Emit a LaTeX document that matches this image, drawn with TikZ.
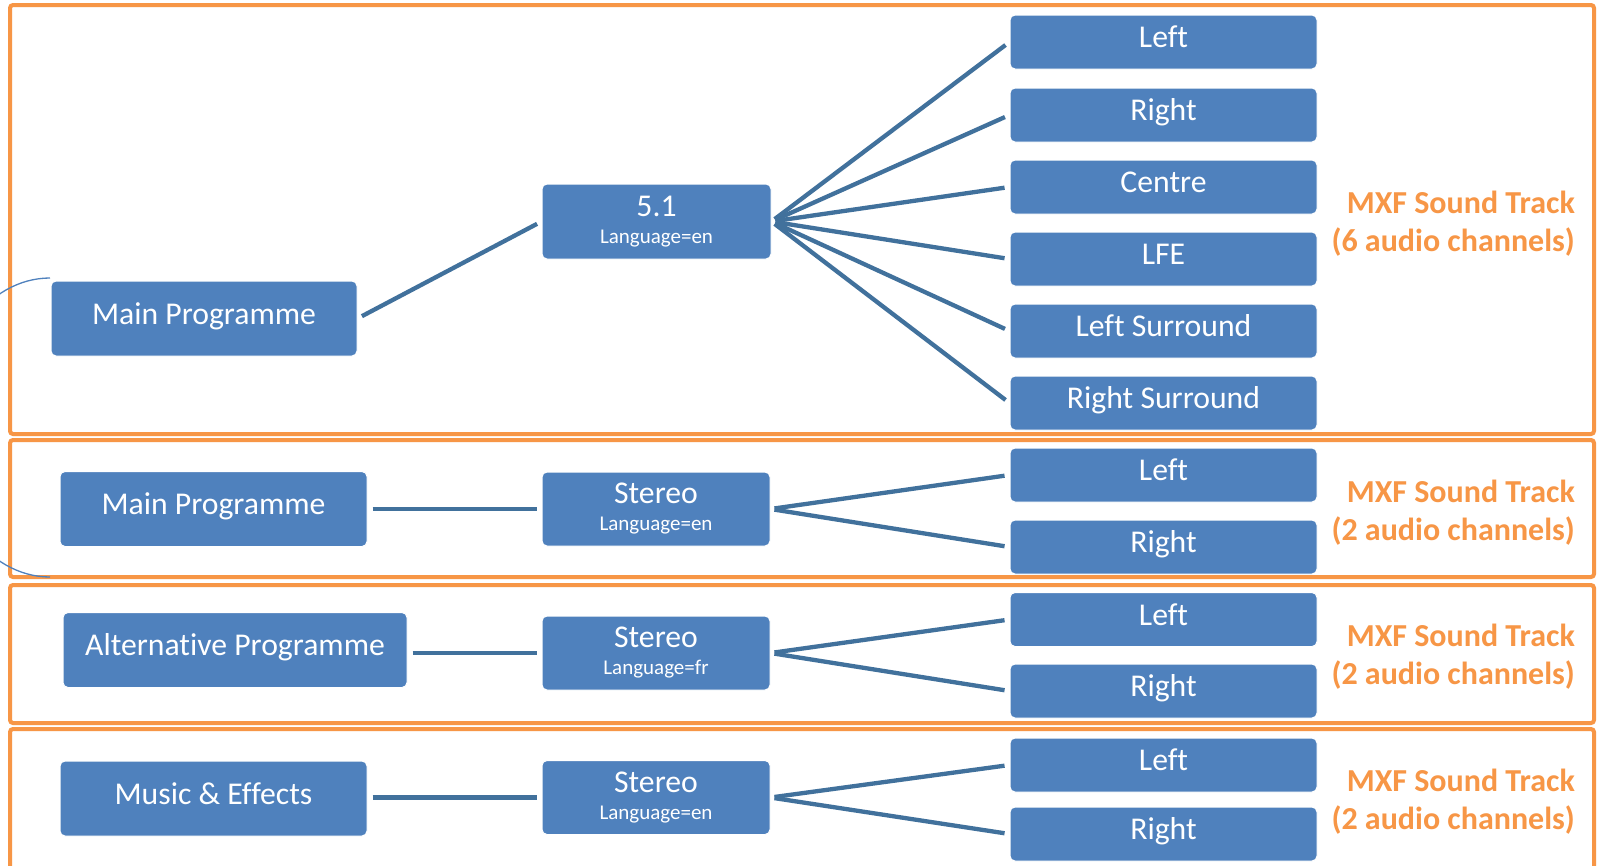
\documentclass[tikz,border=0pt]{standalone}
\usepackage{fontspec}
\setmainfont{Carlito}[Ligatures={NoCommon}]
\definecolor{nodeblue}{HTML}{4F81BD}
\definecolor{lineblue}{HTML}{41719C}
\definecolor{frameorange}{HTML}{F79646}
\tikzset{
  base/.style={rectangle, rounded corners=5pt, fill=nodeblue, draw=white, line width=1pt,
    text=white, inner sep=0pt, font=\fontsize{31.7}{37}\selectfont},
  single/.style={base, text height=21pt, text depth=10pt},
  prog/.style={single, minimum height=75pt},
  chan/.style={single, minimum width=307pt, minimum height=54pt},
  fmt/.style={base, minimum width=228pt, minimum height=74pt, align=center,
    font=\fontsize{31.7}{27}\selectfont},
  track/.style={text=frameorange, font=\bfseries\fontsize{32}{38}\selectfont, align=right,
    anchor=east, inner sep=0pt},
  conn/.style={draw=lineblue, line width=4.3pt, shorten <=5pt, shorten >=5pt},
  fan/.style={draw=lineblue, line width=4.3pt, shorten <=4pt, shorten >=5pt},
  frame/.style={draw=frameorange, line width=4pt, rounded corners=3pt},
  brace/.style={draw=nodeblue, line width=1.3pt}
}
\newcommand{\lang}[1]{\\{\fontsize{21}{27}\selectfont Language=#1}}
\begin{document}
\begin{tikzpicture}[x=1pt, y=-1pt]
\useasboundingbox (0,0) rectangle (1598,865);
\clip (0,0) rectangle (1598,865);
\fill[white] (0,0) rectangle (1598,865);

% frames
\draw[frame] (10,5) rectangle (1594,434);
\draw[frame] (10,440) rectangle (1594,577);
\draw[frame] (10,585) rectangle (1594,723);
\draw[frame] (10,729) rectangle (1594,900);

% ---- row 1
\node[prog, minimum width=306pt] (mp1) at (204,318.5) {Main Programme};
\node[fmt, minimum height=75pt, minimum width=229pt] (f51) at (656.5,221.5) {5.1\lang{en}};
\node[chan] (c1) at (1163.5,42) {Left};
\node[chan] (c2) at (1163.5,115) {Right};
\node[chan] (c3) at (1163.5,187) {Centre};
\node[chan] (c4) at (1163.5,259) {LFE};
\node[chan] (c5) at (1163.5,331) {Left Surround};
\node[chan] (c6) at (1163.5,403) {Right Surround};
\node[track] (t1) at (1575,223.5) {MXF Sound Track\\(6 audio channels)};
\draw[conn] (mp1.east) -- (f51.west);
\foreach \c in {c1,c2,c3,c4,c5,c6} \draw[fan] (f51.east) -- (\c.west);

% ---- row 2
\node[prog, minimum width=307pt] (mp2) at (213.5,509) {Main Programme};
\node[fmt] (s2) at (656,509) {Stereo\lang{en}};
\node[chan] (l2) at (1163.5,475) {Left};
\node[chan] (r2) at (1163.5,547) {Right};
\node[track] (t2) at (1575,513) {MXF Sound Track\\(2 audio channels)};
\draw[conn] (mp2.east |- s2.west) -- (s2.west);
\draw[fan] (s2.east) -- (l2.west);
\draw[fan] (s2.east) -- (r2.west);

% ---- row 3
\node[prog, minimum width=344pt] (ap) at (235,650) {Alternative Programme};
\node[fmt] (s3) at (656,653) {Stereo\lang{fr}};
\node[chan] (l3) at (1163.5,619.5) {Left};
\node[chan] (r3) at (1163.5,691) {Right};
\node[track] (t3) at (1575,657) {MXF Sound Track\\(2 audio channels)};
\draw[conn] (ap.east |- s3.west) -- (s3.west);
\draw[fan] (s3.east) -- (l3.west);
\draw[fan] (s3.east) -- (r3.west);

% ---- row 4
\node[prog, minimum width=307pt] (me) at (213.5,798.5) {Music \& Effects};
\node[fmt] (s4) at (656,797.5) {Stereo\lang{en}};
\node[chan] (l4) at (1163.5,765) {Left};
\node[chan] (r4) at (1163.5,834) {Right};
\node[track] (t4) at (1575,802) {MXF Sound Track\\(2 audio channels)};
\draw[conn] (me.east |- s4.west) -- (s4.west);
\draw[fan] (s4.east) -- (l4.west);
\draw[fan] (s4.east) -- (r4.west);

% grouping arc
\coordinate (arcstart) at (50,278);
\draw[brace] (arcstart) arc[start angle=270, end angle=90, x radius=112, y radius=149.5];
\end{tikzpicture}
\end{document}
